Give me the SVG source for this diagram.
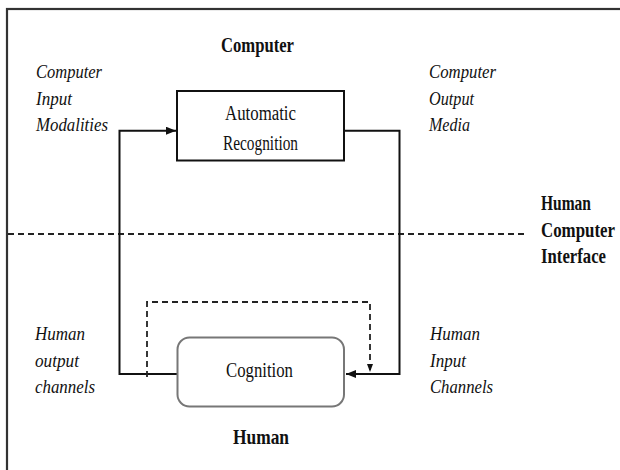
<svg xmlns="http://www.w3.org/2000/svg" width="620" height="470" viewBox="0 0 620 470">
<defs>
<marker id="arr" viewBox="0 0 10 8" refX="10" refY="4" markerWidth="10" markerHeight="8" markerUnits="userSpaceOnUse" orient="auto">
<path d="M0,0 L10,4 L0,8 Z" fill="#111"/>
</marker>
<marker id="arrs" viewBox="0 0 8 6" refX="8" refY="3" markerWidth="8" markerHeight="6" markerUnits="userSpaceOnUse" orient="auto">
<path d="M0,0 L8,3 L0,6 Z" fill="#111"/>
</marker>
<style>
text{font-family:"Liberation Serif","Times New Roman",serif;fill:#111}
.b{font-weight:bold;font-size:21px}
.i{font-style:italic;font-size:19px}
.r{font-size:20px}
.ln{fill:none;stroke:#111;stroke-width:2}
.dash{fill:none;stroke:#222;stroke-width:1.8;stroke-dasharray:6 4}
</style>
</defs>
<rect x="7" y="9" width="640" height="500" fill="none" stroke="#333" stroke-width="2.2"/>
<g id="hci-line">
<line x1="8" y1="234" x2="527" y2="234" class="dash"/>
</g>
<g id="connectors">
<path class="ln" d="M177.5,374 H119.5 V130.7 H176" marker-end="url(#arr)"/>
<path class="ln" d="M344,130.7 H399.5 V374 H346" marker-end="url(#arr)"/>
<path class="dash" d="M147,377 V302 H370 V372" marker-end="url(#arrs)"/>
</g>
<g id="recognition">
<rect x="177" y="91" width="167" height="69.5" fill="#fff" stroke="#111" stroke-width="2"/>
<text class="r" x="260.5" y="120" text-anchor="middle" textLength="71" lengthAdjust="spacingAndGlyphs">Automatic</text>
<text class="r" x="260.5" y="150" text-anchor="middle" textLength="75" lengthAdjust="spacingAndGlyphs">Recognition</text>
</g>
<g id="cognition">
<rect x="177.5" y="337.5" width="166.5" height="69" rx="12" fill="#fff" stroke="#777" stroke-width="2"/>
<text class="r" x="259.5" y="377" text-anchor="middle" textLength="67" lengthAdjust="spacingAndGlyphs">Cognition</text>
</g>
<g id="labels">
<text class="b" x="221" y="52" textLength="73" lengthAdjust="spacingAndGlyphs">Computer</text>
<text class="b" x="233" y="444" textLength="56" lengthAdjust="spacingAndGlyphs">Human</text>
<text class="b" x="541" y="210" textLength="50" lengthAdjust="spacingAndGlyphs">Human</text>
<text class="b" x="541" y="237" textLength="74" lengthAdjust="spacingAndGlyphs">Computer</text>
<text class="b" x="541" y="263" textLength="65" lengthAdjust="spacingAndGlyphs">Interface</text>
<text class="i" x="36" y="78" textLength="66" lengthAdjust="spacingAndGlyphs">Computer</text>
<text class="i" x="36" y="105" textLength="36" lengthAdjust="spacingAndGlyphs">Input</text>
<text class="i" x="36" y="131" textLength="72" lengthAdjust="spacingAndGlyphs">Modalities</text>
<text class="i" x="429" y="78" textLength="67" lengthAdjust="spacingAndGlyphs">Computer</text>
<text class="i" x="429" y="105" textLength="45" lengthAdjust="spacingAndGlyphs">Output</text>
<text class="i" x="429" y="131" textLength="41" lengthAdjust="spacingAndGlyphs">Media</text>
<text class="i" x="35" y="340" textLength="50" lengthAdjust="spacingAndGlyphs">Human</text>
<text class="i" x="35" y="367" textLength="44" lengthAdjust="spacingAndGlyphs">output</text>
<text class="i" x="35" y="393" textLength="60" lengthAdjust="spacingAndGlyphs">channels</text>
<text class="i" x="430" y="340" textLength="50" lengthAdjust="spacingAndGlyphs">Human</text>
<text class="i" x="430" y="367" textLength="36" lengthAdjust="spacingAndGlyphs">Input</text>
<text class="i" x="430" y="393" textLength="63" lengthAdjust="spacingAndGlyphs">Channels</text>
</g>
</svg>
